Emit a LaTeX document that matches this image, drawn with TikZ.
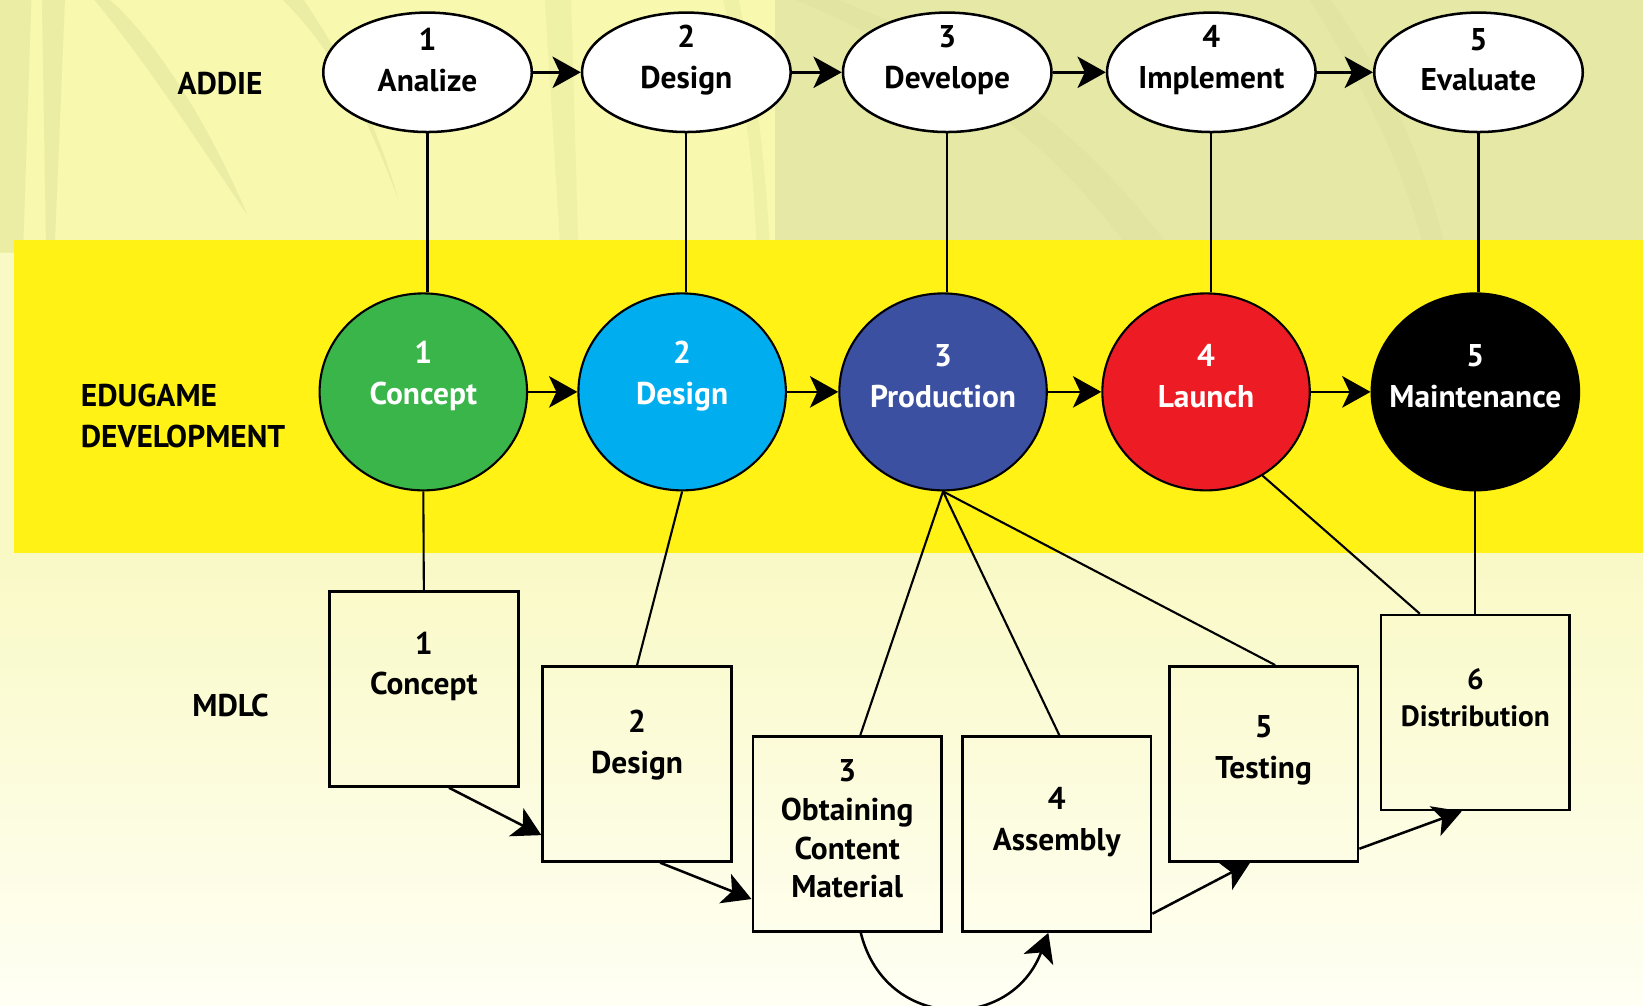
\documentclass[tikz,border=0pt]{standalone}
\usepackage{fontspec}
\setmainfont{PT Sans}
\usetikzlibrary{shapes.geometric,arrows.meta,calc}
\definecolor{upL}{HTML}{F8F8AE}
\definecolor{upR}{HTML}{E6E8A6}
\definecolor{leaf}{HTML}{CDD68E}
\definecolor{lowT}{HTML}{F9F9C6}
\definecolor{lowB}{HTML}{FFFFF4}
\definecolor{band}{HTML}{FFF214}
\definecolor{cgreen}{HTML}{39B54A}
\definecolor{ccyan}{HTML}{00AEEF}
\definecolor{cblue}{HTML}{3C50A2}
\definecolor{cred}{HTML}{ED1C24}
\begin{document}
\begin{tikzpicture}[x=1pt,y=-1pt]
\tikzset{
 lbl/.style={font=\fontsize{30}{39}\selectfont\bfseries, align=center, inner sep=0pt},
 addie/.style={ellipse, draw, line width=2.4pt, fill=white, minimum width=199pt, minimum height=114pt, inner sep=0pt},
 edu/.style={ellipse, draw, line width=2pt, minimum width=198pt, minimum height=188pt, inner sep=0pt},
 mbox/.style={rectangle, draw, line width=2.6pt, minimum width=180pt, minimum height=186pt, inner sep=0pt},
 conn/.style={line width=2pt},
 arr/.style={line width=2.4pt, -{Stealth[length=27pt,width=30pt,inset=7pt]}},
 leafy/.style={fill=leaf, fill opacity=0.3, draw=none},
}
\useasboundingbox (0,0) rectangle (1568,960);
% background
\fill[upL] (0,0) rectangle (740,241);
\fill[upR] (740,0) rectangle (1568,241);
\begin{scope}
\clip (0,0) rectangle (1568,241);
\fill[leafy] (0,0) -- (30,0) -- (22,241) -- (0,241) -- cycle;
\fill[leafy] (40,0) -- (62,0) -- (52,241) -- (44,241) -- cycle;
\fill[leafy] (105,0) .. controls (150,40) and (200,120) .. (236,205) .. controls (185,130) and (140,60) .. (90,0) -- cycle;
\fill[leafy] (290,0) .. controls (330,60) and (360,120) .. (380,190) .. controls (350,110) and (320,50) .. (270,0) -- cycle;
\fill[leafy, fill opacity=0.2] (520,0) -- (545,0) -- (552,241) -- (535,241) -- cycle;
\fill[leafy, fill opacity=0.2] (690,0) .. controls (710,80) and (720,160) .. (722,241) -- (735,241) .. controls (730,150) and (720,70) .. (705,0) -- cycle;
\fill[leafy, fill opacity=0.15] (760,0) .. controls (900,60) and (1000,130) .. (1080,241) -- (1120,241) .. controls (1030,120) and (930,50) .. (800,0) -- cycle;
\fill[leafy, fill opacity=0.15] (1250,0) .. controls (1300,80) and (1340,160) .. (1360,241) -- (1380,241) .. controls (1360,150) and (1320,70) .. (1270,0) -- cycle;
\end{scope}
\fill[lowT] (0,241) rectangle (1568,528);
\shade[top color=lowT, bottom color=lowB] (0,528) rectangle (1568,960);
\fill[band] (13,229) rectangle (1568,528);
% labels
\node[lbl] (lA) at (210,80) {ADDIE};
\node[lbl, anchor=west, align=left] (lE) at (77,397) {EDUGAME\\DEVELOPMENT};
\node[lbl] (lM) at (220,673) {MDLC};
% ADDIE
\foreach \i/\x in {1/408,2/655,3/904,4/1156,5/1411}{
  \node[addie] (a\i) at (\x,69) {};
}
\node[lbl] (ta1) at (408,57) {1\\Analize};
\node[lbl] (ta2) at (655,57) {2\\Design};
\node[lbl] (ta3) at (904,57) {3\\Develope};
\node[lbl] (ta4) at (1156,57) {4\\Implement};
\node[lbl] (ta5) at (1411,57) {5\\Evaluate};
% EDUGAME
\node[edu, fill=cgreen] (e1) at (404,374) {};
\node[edu, fill=ccyan] (e2) at (651,374) {};
\node[edu, fill=cblue] (e3) at (900,374) {};
\node[edu, fill=cred] (e4) at (1151,374) {};
\node[edu, fill=black] (e5) at (1408,374) {};
\node[lbl, text=white] (te1) at (404,359) {1\\Concept};
\node[lbl, text=white] (te2) at (651,359) {2\\Design};
\node[lbl, text=white] (te3) at (900,359) {3\\Production};
\node[lbl, text=white] (te4) at (1151,359) {4\\Launch};
\node[lbl, text=white] (te5) at (1408,359) {5\\Maintenance};
% MDLC
\node[mbox] (m1) at (404.5,657.5) {};
\node[mbox] (m2) at (608,729) {};
\node[mbox] (m3) at (808.5,796) {};
\node[mbox] (m4) at (1008.5,796) {};
\node[mbox] (m5) at (1206,729) {};
\node[mbox] (m6) at (1408,680) {};
\node[lbl] (tm1) at (404.5,636) {1\\Concept};
\node[lbl] (tm2) at (608,711) {2\\Design};
\node[lbl, font=\fontsize{30}{37}\selectfont\bfseries] (tm3) at (808.5,791) {3\\Obtaining\\Content\\Material};
\node[lbl] (tm4) at (1008.5,785) {4\\Assembly};
\node[lbl] (tm5) at (1206,716) {5\\Testing};
\node[lbl, font=\fontsize{28}{36}\selectfont\bfseries] (tm6) at (1408,666) {6\\Distribution};
% ADDIE arrows and links
\foreach \i/\j in {1/2,2/3,3/4,4/5}{
  \draw[arr] (a\i) -- (a\j);
  \draw[arr] (e\i) -- (e\j);
}
\foreach \i in {1,...,5}{
  \draw[conn] (a\i.south) -- (a\i.south |- e\i.north);
}
% EDUGAME to MDLC
\draw[conn] (e1.south) -- (m1.north);
\draw[conn] (e2.south) -- (m2.north);
\draw[conn] (e3.south) -- ([xshift=12.5pt]m3.north);
\draw[conn] (e3.south) -- ([xshift=2.5pt]m4.north);
\draw[conn] (e3.south) -- ([xshift=11pt]m5.north);
\draw[conn] (e4.-56) -- ([xshift=-53pt]m6.north);
\draw[conn] (e5.south) -- (m6.north);
% MDLC arrows
\draw[arr] ([xshift=24pt]m1.south) -- ([yshift=-68pt]m2.west);
\draw[arr] ([xshift=22pt]m2.south) -- ([yshift=-62pt]m3.west);
\draw[arr] ([xshift=13pt]m3.south) .. controls (845,985) and (965,985) .. ([xshift=-8pt]m4.south);
\draw[arr] ([yshift=-76pt]m4.east) -- ([xshift=-13pt]m5.south);
\draw[arr] ([yshift=-81pt]m5.east) -- ([xshift=-13pt]m6.south);
\end{tikzpicture}
\end{document}
